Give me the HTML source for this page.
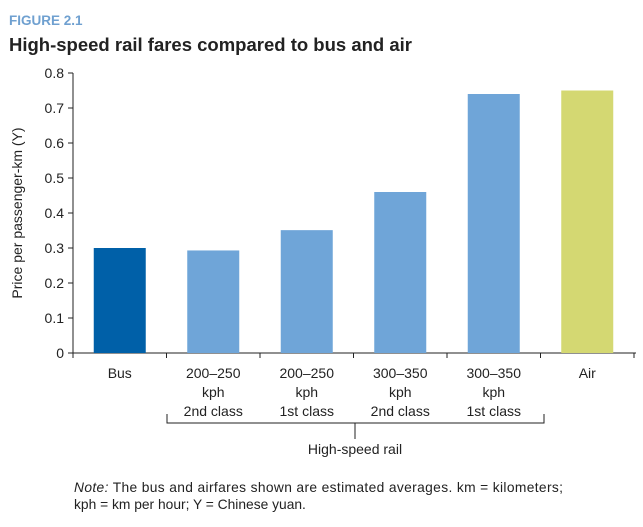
<!DOCTYPE html>
<html><head><meta charset="utf-8"><style>
body{margin:0;background:#fff;font-family:"Liberation Sans",sans-serif;}
svg text{font-family:"Liberation Sans",sans-serif;}
</style></head><body>
<svg width="643" height="522" viewBox="0 0 643 522" xmlns="http://www.w3.org/2000/svg">
<text x="9" y="25" font-size="13.5" font-weight="bold" fill="#6fa0d0">FIGURE 2.1</text>
<text x="9" y="51" font-size="18.5" font-weight="bold" fill="#222">High-speed rail fares compared to bus and air</text>
<text transform="translate(22,213) rotate(-90)" text-anchor="middle" font-size="14" fill="#222">Price per passenger-km (Y)</text>
<g id="chart"></g>
<g>
<path d="M167 414 V423 H544 V414 M355 423 V439" stroke="#222" fill="none" stroke-width="1"/>
</g>
<text x="355" y="454" text-anchor="middle" font-size="14" fill="#222">High-speed rail</text>
<text x="74" y="492" font-size="13.8" fill="#222" textLength="489"><tspan font-style="italic">Note:</tspan> The bus and airfares shown are estimated averages. km = kilometers;</text>
<text x="74" y="509" font-size="13.8" fill="#222">kph = km per hour; Y = Chinese yuan.</text>
</svg>
<script>
const categories=[["Bus"],["200–250","kph","2nd class"],["200–250","kph","1st class"],["300–350","kph","2nd class"],["300–350","kph","1st class"],["Air"]];
const values=[0.30,0.293,0.351,0.46,0.74,0.75];
const colors=["#0060a8","#6fa5d8","#6fa5d8","#6fa5d8","#6fa5d8","#d4d872"];
const ticks=[0,0.1,0.2,0.3,0.4,0.5,0.6,0.7,0.8];
const NS="http://www.w3.org/2000/svg";
const g=document.getElementById('chart');
const x0=73,bw=93.5,y0=353,ppu=350;
const xs=i=>x0+bw*i+bw/2, ys=v=>y0-v*ppu;
function el(t,a){const e=document.createElementNS(NS,t);for(const k in a)e.setAttribute(k,a[k]);g.appendChild(e);return e;}
let ax=el('path',{d:`M${x0} ${ys(0.8)} V${y0} H${x0+bw*6+2}`,stroke:'#222',fill:'none'});


ticks.forEach(t=>{
 const l=el('line',{x1:x0-5,x2:x0,y1:ys(t),y2:ys(t),stroke:'#222'});
 
 
 const tx=el('text',{x:x0-9,y:ys(t)+5,'text-anchor':'end','font-size':14,fill:'#222'});
 tx.textContent=t===0?'0':t.toFixed(1);
 
 
});
for(let i=0;i<=6;i++){
 const l=el('line',{x1:x0+bw*i,x2:x0+bw*i,y1:y0,y2:y0+5,stroke:'#222'});
 
 
}
values.forEach((v,i)=>{
 const r=el('rect',{x:xs(i)-26,y:ys(v),width:52,height:v*ppu,fill:colors[i]});
 
 
 categories[i].forEach((s,j)=>{
  const t=el('text',{x:xs(i),y:378+j*19,'text-anchor':'middle','font-size':14,fill:'#222'});
  t.textContent=s;
  
  
 });
});
</script>
</body></html>
